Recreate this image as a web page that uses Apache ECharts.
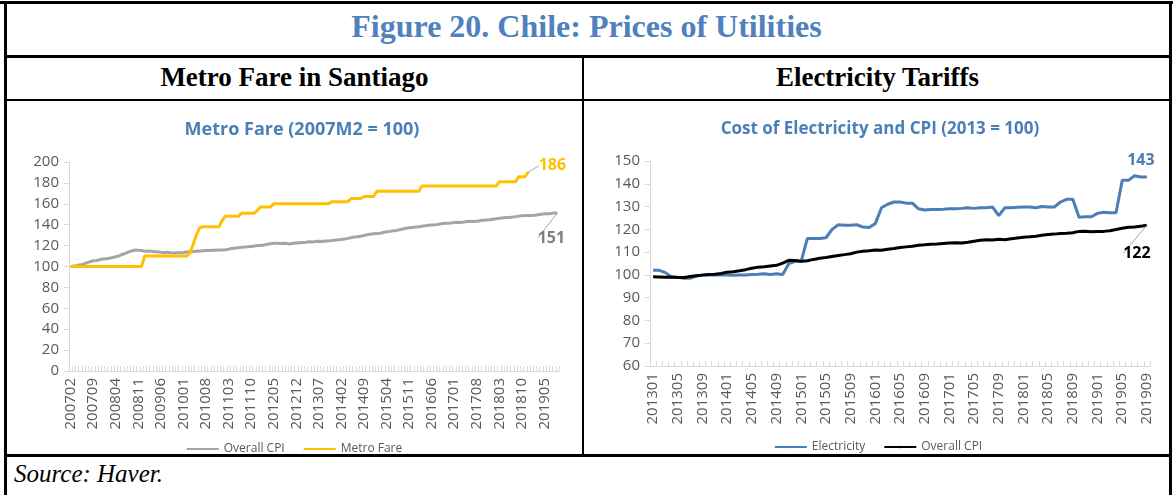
<!DOCTYPE html>
<html lang="en">
<head>
<meta charset="UTF-8">
<title>Figure 20. Chile: Prices of Utilities</title>
<script src="https://cdn.jsdelivr.net/npm/echarts@6/dist/echarts.min.js"></script>
<style>
body{margin:0;background:#fff;}
#page{position:relative;width:1173px;height:495px;background:#fff;overflow:hidden;font-family:"Liberation Serif",serif;}
.ln{position:absolute;background:#000;}
.txt{position:absolute;text-align:center;font-weight:bold;}
#fig{left:0;width:1173px;top:8px;font-size:32px;color:#4f81bd;}
#h1{left:6px;width:577px;top:62px;font-size:27px;color:#000;}
#h2{left:584px;width:587px;top:62px;font-size:27px;color:#000;}
#src{position:absolute;left:14px;top:460px;font-size:25px;font-style:italic;}
#c1{position:absolute;left:8px;top:102px;width:572px;height:352px;}
#c2{position:absolute;left:587px;top:102px;width:582px;height:352px;}
</style>
</head>
<body>
<div id="page">
    <div class="ln" style="left:0;top:1px;width:1173px;height:3px;"></div>
    <div class="ln" style="left:4px;top:1px;width:3px;height:494px;"></div>
    <div class="ln" style="left:1169px;top:1px;width:3px;height:494px;"></div>
    <div class="ln" style="left:4px;top:55px;width:1168px;height:3px;"></div>
    <div class="ln" style="left:4px;top:99px;width:1168px;height:2px;"></div>
    <div class="ln" style="left:582px;top:56px;width:2px;height:400px;"></div>
    <div class="ln" style="left:4px;top:454px;width:1168px;height:3px;"></div>
    <div class="txt" id="fig">Figure 20. Chile: Prices of Utilities</div>
    <div class="txt" id="h1">Metro Fare in Santiago</div>
    <div class="txt" id="h2">Electricity Tariffs</div>
    <div id="src">Source: Haver.</div>
    <div id="c1"></div>
    <div id="c2"></div>
</div>
<script>
// ---- left panel: 2007M2 .. 2019M9, monthly
const metroMonths = [];
for (let y = 2007; y <= 2019; y++) {
    for (let m = 1; m <= 12; m++) {
        if (y === 2007 && m < 2) continue;
        if (y === 2019 && m > 9) continue;
        metroMonths.push('' + y + (m < 10 ? '0' + m : m));
    }
}
const cpiLeft = [
    100.0, 100.4, 100.9, 101.6, 102.4, 103.5, 104.6, 105.5, 105.8, 106.5, 107.2,
    107.3, 107.8, 108.6, 109.3, 110.2, 111.5, 112.6, 113.9, 114.9, 115.8, 115.6, 115.3,
    114.6, 114.8, 114.5, 114.2, 114.0, 113.7, 113.5, 113.6, 113.2, 113.0, 113.1, 113.2,
    113.5, 113.9, 114.0, 114.3, 114.6, 114.9, 115.0, 115.2, 115.3, 115.5, 115.6, 115.7,
    115.8, 116.0, 116.5, 117.3, 117.7, 118.0, 118.3, 118.6, 118.8, 119.2, 119.6, 120.0,
    120.2, 120.6, 121.2, 121.7, 122.2, 122.3, 122.0, 122.2, 121.9, 121.6, 122.3, 122.6,
    122.8, 123.0, 123.2, 123.6, 123.4, 123.9, 124.2, 123.9, 124.3, 124.5, 124.8, 125.2,
    125.5, 125.9, 126.4, 126.9, 127.6, 128.2, 128.5, 128.9, 129.6, 130.5, 130.9, 131.3,
    131.6, 131.8, 132.5, 133.2, 133.6, 134.2, 134.4, 135.1, 135.9, 136.6, 137.1, 137.4,
    137.7, 138.0, 138.5, 138.9, 139.4, 139.8, 140.0, 140.3, 140.9, 141.3, 141.5, 141.7,
    142.0, 142.4, 142.2, 142.6, 143.1, 143.4, 143.1, 143.3, 143.8, 144.2, 144.5, 144.7,
    145.2, 145.6, 146.1, 146.5, 146.8, 147.0, 147.3, 147.7, 148.2, 148.6, 148.9, 148.8,
    148.9, 149.1, 149.6, 150.0, 150.4, 150.5, 150.7, 151.1, 151.2
];
// metro fare series stops at 2019M1
const metroFare = [
    100, 100, 100, 100, 100, 100, 100, 100, 100, 100, 100,
    100, 100, 100, 100, 100, 100, 100, 100, 100, 100, 100, 100,
    110, 110, 110, 110, 110, 110, 110, 110, 110, 110, 110, 110,
    110, 110, 113, 121, 130, 137, 138, 138, 138, 138, 138, 138,
    144, 148, 148, 148, 148, 148, 151, 151, 151, 151, 151, 154,
    157, 157, 157, 157, 160, 160, 160, 160, 160, 160, 160, 160,
    160, 160, 160, 160, 160, 160, 160, 160, 160, 160, 162, 162,
    162, 162, 162, 162, 165, 165, 165, 165, 167, 167, 167, 167,
    172, 172, 172, 172, 172, 172, 172, 172, 172, 172, 172, 172,
    172, 172, 177, 177, 177, 177, 177, 177, 177, 177, 177, 177,
    177, 177, 177, 177, 177, 177, 177, 177, 177, 177, 177, 177,
    177, 177, 181, 181, 181, 181, 181, 181, 186, 186, 186, 190.5
];

// ---- right panel: 2013M1 .. 2019M9, monthly
const elecMonths = [];
for (let y = 2013; y <= 2019; y++) {
    for (let m = 1; m <= 12; m++) {
        if (y === 2019 && m > 9) continue;
        elecMonths.push('' + y + (m < 10 ? '0' + m : m));
    }
}
const electricity = [
    102, 102, 101, 99, 99, 98.5, 98.5, 99.5, 100, 100, 100, 100,
    100, 99.8, 100, 100, 100.2, 100.3, 100.5, 100.2, 100.5, 100.2, 105, 106,
    106, 116, 116, 116, 116.3, 120, 122, 121.8, 121.8, 122, 121, 120.8,
    122.5, 129.5, 131, 132, 132, 131.5, 131.5, 129, 128.5, 128.7, 128.7, 128.8,
    129, 129, 129.2, 129.5, 129.2, 129.5, 129.5, 129.8, 126, 129.5, 129.5, 129.7,
    129.8, 129.8, 129.5, 130, 129.8, 129.8, 132, 133.2, 133.2, 125.3, 125.5, 125.5,
    127, 127.5, 127.3, 127.3, 141.5, 141.5, 143.5, 143, 143
];
const cpiRight = [
    99.2, 99.1, 99.0, 99.1, 98.9, 98.9, 99.3, 99.6, 99.9, 100.2, 100.3, 100.6,
    101.2, 101.4, 101.8, 102.3, 102.9, 103.4, 103.6, 103.9, 104.2, 105.2, 106.4, 106.3,
    106.0, 106.2, 106.8, 107.3, 107.6, 108.1, 108.5, 108.9, 109.3, 110.0, 110.4, 110.6,
    110.9, 110.8, 111.3, 111.6, 112.0, 112.3, 112.6, 113.0, 113.2, 113.5, 113.6, 113.8,
    114.0, 114.1, 114.0, 114.3, 114.8, 115.2, 115.4, 115.3, 115.6, 115.4, 115.9, 116.2,
    116.5, 116.7, 117.0, 117.4, 117.7, 117.9, 118.2, 118.3, 118.5, 119.1, 119.2, 118.9,
    119.0, 119.1, 119.4, 119.9, 120.5, 120.9, 121.0, 121.4, 121.8
];

const FONT = 'Open Sans';
const GREY_TXT = '#595959';
const AXIS_C = '#d9d9d9';
const LEADER = { show: true, lineStyle: { color: '#a6a6a6', width: 1 } };

// label only the last point of a series
function withEndLabel(arr, label) {
    return arr.map((v, i) => i === arr.length - 1 ? { value: v, label: label } : v);
}

function endLabelStyle(text, color) {
    return {
        show: true, position: 'inside', formatter: text,
        fontFamily: FONT, fontSize: 16, fontWeight: 'bold', color: color
    };
}

function baseOpt(title, titleX, titleSize, cats, yMin, yMax, yStep, labInt, grid, legendTop) {
    return {
        animation: false,
        title: {
            text: title, left: titleX, top: 14, textAlign: 'center',
            textStyle: { fontFamily: FONT, fontSize: titleSize, fontWeight: 'bold', color: '#4a7fb8' }
        },
        grid: grid,
        legend: {
            top: legendTop, left: 'center', itemWidth: 32, itemHeight: 3, itemGap: 18,
            textStyle: { fontFamily: FONT, fontSize: 12, color: GREY_TXT }
        },
        xAxis: {
            type: 'category', data: cats, boundaryGap: true,
            axisLine: { lineStyle: { color: AXIS_C } },
            axisTick: { show: true, inside: true, length: 5, interval: 0, lineStyle: { color: AXIS_C } },
            axisLabel: { interval: labInt, rotate: 90, fontFamily: FONT, fontSize: 15, color: GREY_TXT, margin: 7 }
        },
        yAxis: {
            type: 'value', min: yMin, max: yMax, interval: yStep,
            axisLine: { show: true, lineStyle: { color: AXIS_C } },
            axisTick: { show: true, length: 5, lineStyle: { color: AXIS_C } },
            splitLine: { show: false },
            axisLabel: { fontFamily: FONT, fontSize: 15, color: GREY_TXT, margin: 10 }
        }
    };
}

function lineSeries(name, color, data, label, shift, leader) {
    return {
        name: name, type: 'line', symbol: 'circle', symbolSize: 0, showSymbol: true,
        lineStyle: { color: color, width: 3 }, itemStyle: { color: color },
        data: withEndLabel(data, label),
        labelLine: leader ? LEADER : { show: false },
        labelLayout: shift
    };
}

const chart1 = echarts.init(document.getElementById('c1'));
const opt1 = baseOpt('Metro Fare (2007M2 = 100)', 289, 18, metroMonths, 0, 200, 20, 6,
    { left: 61, right: 21, top: 60, bottom: 83 }, 336);
opt1.series = [
    lineSeries('Overall CPI', '#a5a5a5', cpiLeft,
        endLabelStyle('151', '#7f7f7f'), { dx: -6, dy: 25 }, true),
    lineSeries('Metro Fare', '#ffc000', metroFare,
        endLabelStyle('186', '#ffc000'), { dx: 24, dy: -6 }, true)
];
chart1.setOption(opt1);

const chart2 = echarts.init(document.getElementById('c2'));
const opt2 = baseOpt('Cost of Electricity and CPI (2013 = 100)', 288, 17, elecMonths, 60, 150, 10, 3,
    { left: 63, right: 19, top: 59, bottom: 88 }, 334);
opt2.series = [
    lineSeries('Electricity', '#4a7fb5', electricity,
        endLabelStyle('143', '#4a7fb5'), { dx: -6, dy: -17 }, false),
    lineSeries('Overall CPI', '#000', cpiRight,
        endLabelStyle('122', '#000'), { dx: -10, dy: 28 }, true)
];
chart2.setOption(opt2);
</script>
</body>
</html>
